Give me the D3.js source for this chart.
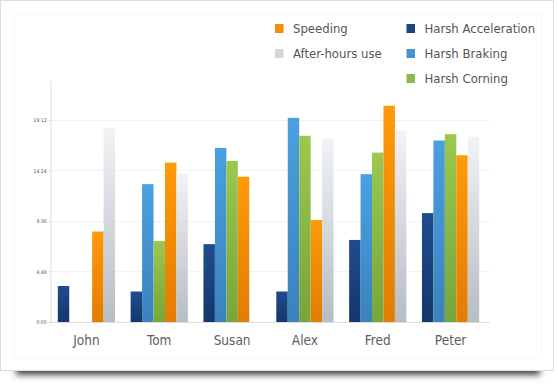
<!DOCTYPE html>
<html>
<head>
<meta charset="utf-8">
<script src="https://cdn.jsdelivr.net/npm/d3@7"></script>
<style>
    body { margin: 0; background: #fff; }
    text { font-family: "DejaVu Sans Condensed", "DejaVu Sans", sans-serif; }
</style>
</head>
<body>
<script>
const width = 558
const height = 385

const drivers = ["John", "Tom", "Susan", "Alex", "Fred", "Peter"]
const seriesNames = ["Harsh Acceleration", "Harsh Braking", "Harsh Corning", "Speeding", "After-hours use"]

// hours per driver, null = no bar
const acceleration = [3.42, 2.9, 7.4, 2.9, 7.8, 10.35]
const braking = [null, 13.1, 16.55, 19.4, 14.05, 17.25]
const corning = [null, 7.7, 15.3, 17.7, 16.1, 17.85]
const speeding = [8.6, 15.15, 13.8, 9.7, 20.55, 15.85]
const afterHours = [18.45, 14.1, null, 17.4, 18.2, 17.6]

const yTicks = [0, 4.8, 9.6, 14.4, 19.2]
const legendCols = [["Speeding", "After-hours use"], ["Harsh Acceleration", "Harsh Braking", "Harsh Corning"]]

const values = [acceleration, braking, corning, speeding, afterHours]
const colors = {
    "Harsh Acceleration": ["#1f4c8f", "#14376c"],
    "Harsh Braking": ["#4ba0e0", "#3a82bd"],
    "Harsh Corning": ["#9cc84f", "#76a63a"],
    "Speeding": ["#ff9a0a", "#e27c04"],
    "After-hours use": ["#f1f3f6", "#b6bdc3"]
}

let svg = d3.select("body")
    .append("svg")
    .attr("width", width)
    .attr("height", height)

let defs = svg.append("defs")
defs.append("filter")
    .attr("id", "blur")
    .attr("x", "-20%").attr("y", "-100%")
    .attr("width", "140%").attr("height", "300%")
    .append("feGaussianBlur")
    .attr("stdDeviation", 3)

seriesNames.forEach((s, i) => {
    let g = defs.append("linearGradient")
        .attr("id", "grad" + i)
        .attr("x1", 0).attr("y1", 0).attr("x2", 0).attr("y2", 1)
    g.append("stop").attr("offset", "0%").attr("stop-color", colors[s][0])
    g.append("stop").attr("offset", "100%").attr("stop-color", colors[s][1])
})

// card + shadow
svg.append("rect")
    .attr("x", 16).attr("y", 362)
    .attr("width", 524).attr("height", 13)
    .attr("fill", "#4a4a4a")
    .attr("filter", "url(#blur)")

svg.append("rect")
    .attr("x", 0.5).attr("y", 0.5)
    .attr("width", 553).attr("height", 370)
    .attr("fill", "#fff")
    .attr("stroke", "#dcdcdc")

svg.append("rect")
    .attr("x", 14.5).attr("y", 14.5)
    .attr("width", 527).attr("height", 344)
    .attr("fill", "none")
    .attr("stroke", "#f7f7f7")

const plotLeft = 50, plotRight = 487, plotTop = 80, plotBottom = 322

let x = d3.scaleBand()
    .domain(drivers)
    .range([plotLeft, plotRight])
    .paddingInner(0.214)
    .paddingOuter(0.107)

let xInner = d3.scaleBand()
    .domain(seriesNames)
    .range([0, x.bandwidth()])

let y = d3.scaleLinear()
    .domain([0, 23])
    .range([plotBottom, plotTop])

const fmt = (v) => {
    let h = Math.floor(v)
    let m = Math.round((v - h) * 60)
    return h + ":" + String(m).padStart(2, "0")
}

// grid
svg.append("g")
    .selectAll("line")
    .data(yTicks.slice(1))
    .enter()
    .append("line")
    .attr("x1", plotLeft).attr("x2", plotRight + 3)
    .attr("y1", d => Math.round(y(d)) + 0.5)
    .attr("y2", d => Math.round(y(d)) + 0.5)
    .attr("stroke", "#f2f2f2")

let yAxis = svg.append("g")
    .attr("transform", `translate(${plotLeft + 0.5},0)`)
    .call(d3.axisLeft(y).tickValues(yTicks).tickFormat(fmt).tickSize(3).tickSizeOuter(0).tickPadding(1))
yAxis.select(".domain").attr("stroke", "#dedede")
yAxis.selectAll(".tick line").attr("stroke", "#e4e4e4")
yAxis.selectAll(".tick text")
    .attr("fill", "#555")
    .style("font-size", "5px")

// bars
let groups = svg.append("g")
    .selectAll("g")
    .data(drivers)
    .enter()
    .append("g")
    .attr("transform", d => `translate(${x(d)},0)`)

groups.selectAll("rect")
    .data((d, i) => seriesNames.map((s, j) => ({ s: s, j: j, v: values[j][i] })).filter(b => b.v != null))
    .enter()
    .append("rect")
    .attr("x", b => xInner(b.s))
    .attr("width", xInner.bandwidth())
    .attr("y", b => y(b.v))
    .attr("height", b => y(0) - y(b.v))
    .attr("fill", b => `url(#grad${b.j})`)

// x axis
let xAxis = svg.append("g")
    .attr("transform", `translate(0,${plotBottom + 0.5})`)
    .call(d3.axisBottom(x).tickSize(0).tickPadding(13))
xAxis.select(".domain").attr("stroke", "#dedede").attr("d", `M${plotLeft},0H${plotRight + 3}`)
xAxis.selectAll(".tick text")
    .attr("fill", "#5e5e5e")
    .style("font-size", "13.5px")

// legend
let legend = svg.append("g")
legendCols.forEach((col, c) => {
    let lx = c == 0 ? 275 : 406.5
    let items = legend.selectAll(".col" + c)
        .data(col)
        .enter()
        .append("g")
        .attr("transform", (d, i) => `translate(${lx},${24 + i * 25})`)
    items.append("rect")
        .attr("width", 8.5).attr("height", 9)
        .attr("fill", d => colors[d][0] == "#f1f3f6" ? "#d3d6da" : d3.interpolateRgb(colors[d][0], colors[d][1])(0.4))
    items.append("text")
        .attr("x", 18).attr("y", 9)
        .attr("fill", "#555")
        .style("font-size", "13px")
        .text(d => d)
})
</script>
</body>
</html>
